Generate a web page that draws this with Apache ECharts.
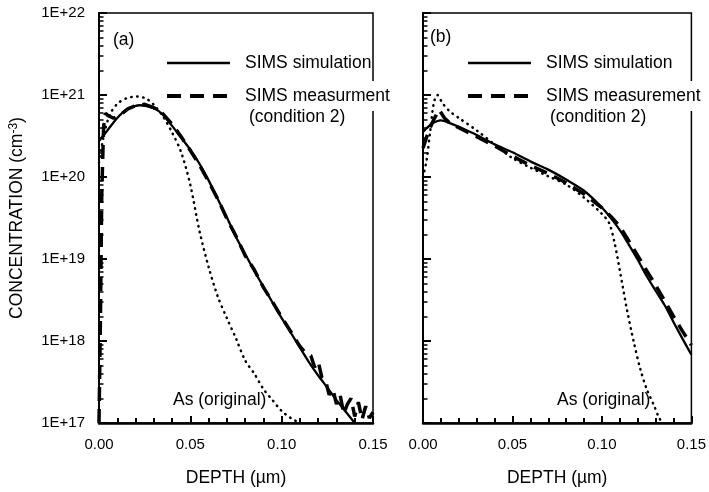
<!DOCTYPE html>
<html>
<head>
<meta charset="utf-8">
<title>SIMS depth profiles</title>
<script src="https://cdn.jsdelivr.net/npm/echarts@6/dist/echarts.min.js"></script>
<style>
  html, body { margin: 0; padding: 0; background: #fff; }
  #chart { width: 709px; height: 492px; }
</style>
</head>
<body>
<div id="chart"></div>
<script>
// depth in um, concentration in cm^-3

// panel (a)
const simDepthA = [0, 0.005, 0.01, 0.015, 0.0225, 0.03, 0.035, 0.04, 0.045, 0.05, 0.055, 0.06, 0.065, 0.07,
  0.075, 0.08, 0.085, 0.09, 0.095, 0.1, 0.105, 0.11, 0.115, 0.12, 0.125, 0.13, 0.135, 0.14]
const simConcA = [2.75e20, 3.8e20, 5.25e20, 6.6e20, 7.5e20, 6.9e20, 5.75e20, 4.2e20, 3.0e20, 2.15e20, 1.45e20, 9.1e19, 5.4e19, 3.2e19,
  1.86e19, 1.15e19, 7.2e18, 4.6e18, 2.95e18, 1.9e18, 1.26e18, 8.3e17, 5.5e17, 3.8e17, 2.7e17, 1.9e17, 1.38e17, 1.0e17]

const measDepthA = [0, 0.0008, 0.0015, 0.0025, 0.0035, 0.005, 0.008, 0.012, 0.016, 0.02, 0.025, 0.03, 0.035, 0.04,
  0.045, 0.05, 0.055, 0.06, 0.065, 0.07, 0.075, 0.08, 0.085, 0.09, 0.095, 0.1, 0.105, 0.11, 0.113, 0.116,
  0.118, 0.12, 0.122, 0.124, 0.126, 0.128, 0.13, 0.132, 0.134, 0.136, 0.138, 0.14, 0.142, 0.144, 0.146, 0.148, 0.15]
const measConcA = [1e17, 2e18, 6e19, 4e20, 6e20, 5.6e20, 5.2e20, 5.8e20, 6.8e20, 7.4e20, 7.7e20, 7.0e20, 5.9e20, 4.4e20,
  3.1e20, 2.1e20, 1.4e20, 8.8e19, 5.4e19, 3.1e19, 1.9e19, 1.1e19, 7.4e18, 4.5e18, 3.0e18, 1.95e18, 1.3e18, 8.6e17, 7.2e17, 6.6e17,
  4.8e17, 5.6e17, 3.6e17, 3.3e17, 2.2e17, 2.6e17, 1.7e17, 2.2e17, 1.3e17, 1.7e17, 2.0e17, 1.2e17, 1.8e17, 1.1e17, 1.6e17, 1.15e17, 1.35e17]

const origDepthA = [0, 0.003, 0.006, 0.01, 0.015, 0.021, 0.026, 0.03, 0.035, 0.04, 0.045, 0.05, 0.055, 0.06,
  0.065, 0.07, 0.075, 0.08, 0.085, 0.09, 0.095, 0.1, 0.105, 0.11]
const origConcA = [1.5e20, 3.5e20, 5.8e20, 7.8e20, 9.1e20, 9.6e20, 9.0e20, 7.6e20, 5.5e20, 3.5e20, 2.0e20, 8.0e19, 2.2e19, 8.0e18,
  3.5e18, 1.9e18, 1.07e18, 5.8e17, 4.0e17, 2.6e17, 1.9e17, 1.4e17, 1.15e17, 1.0e17]

// panel (b)
const simDepthB = [0, 0.005, 0.01, 0.015, 0.02, 0.03, 0.04, 0.05, 0.06, 0.07, 0.08, 0.09, 0.1, 0.105,
  0.11, 0.115, 0.12, 0.125, 0.13, 0.135, 0.14, 0.145, 0.15]
const simConcB = [3.55e20, 4.45e20, 4.9e20, 4.55e20, 4.1e20, 3.25e20, 2.5e20, 2.0e20, 1.55e20, 1.23e20, 9.3e19, 6.8e19, 4.25e19, 3.15e19,
  2.25e19, 1.5e19, 9.8e18, 6.2e18, 4.1e18, 2.75e18, 1.7e18, 1.07e18, 6.8e17]

const measDepthB = [0, 0.003, 0.006, 0.009, 0.012, 0.016, 0.02, 0.03, 0.04, 0.05, 0.06, 0.07, 0.08, 0.09,
  0.1, 0.105, 0.11, 0.115, 0.12, 0.125, 0.13, 0.135, 0.14, 0.145, 0.15]
const measConcB = [2.25e20, 3.55e20, 5.0e20, 6.6e20, 5.25e20, 4.35e20, 4.0e20, 3.1e20, 2.4e20, 1.8e20, 1.38e20, 1.1e20, 8.5e19, 6.2e19,
  4.2e19, 3.3e19, 2.5e19, 1.66e19, 1.1e19, 7.2e18, 4.8e18, 3.1e18, 2.0e18, 1.32e18, 8.9e17]

const origDepthB = [0, 0.002, 0.004, 0.006, 0.008, 0.011, 0.015, 0.02, 0.03, 0.04, 0.05, 0.06, 0.07, 0.08,
  0.09, 0.1, 0.104, 0.107, 0.1105, 0.114, 0.118, 0.1215, 0.125, 0.129, 0.132, 0.134]
const origConcB = [1.0e20, 1.6e20, 3.55e20, 7.9e20, 1.0e21, 7.9e20, 6.3e20, 5.25e20, 3.7e20, 2.5e20, 1.7e20, 1.3e20, 1.02e20, 8.1e19,
  5.6e19, 3.55e19, 2.75e19, 1.6e19, 6.3e18, 2.4e18, 9.3e17, 4.5e17, 2.6e17, 1.65e17, 1.15e17, 1.0e17]

// tick labels
const yTickLabels = ['1E+17', '1E+18', '1E+19', '1E+20', '1E+21', '1E+22']
const xTickLabels = ['0.00', '0.05', '0.10', '0.15']

const FONT = '"Liberation Sans", Arial, Helvetica, sans-serif'

function pairs(xs, ys) {
  return xs.map((x, i) => [x, ys[i]])
}

// minor ticks at 2..9 of every decade, in exponent units
const minorYTicks = []
for (let e = 17; e < 22; e++) {
  for (let m = 2; m <= 9; m++) minorYTicks.push(e + Math.log10(m))
}

function xAxisFor(gridIndex) {
  return {
    type: 'value',
    gridIndex: gridIndex,
    min: 0,
    max: 0.15,
    interval: 0.05,
    name: 'DEPTH (\u00b5m)',
    nameLocation: 'middle',
    nameGap: 46,
    nameTextStyle: { color: '#000', fontSize: 17.5, fontFamily: FONT },
    axisLine: { lineStyle: { color: '#000', width: 2.5 } },
    axisTick: { inside: true, length: 7, lineStyle: { color: '#000', width: 2 } },
    minorTick: { show: true, splitNumber: 5, length: 5, lineStyle: { color: '#000', width: 2 } },
    axisLabel: {
      color: '#000',
      fontSize: 15,
      fontFamily: FONT,
      margin: 14,
      formatter: v => xTickLabels[Math.round(v / 0.05)]
    },
    splitLine: { show: false }
  }
}

function yAxisFor(gridIndex, withLabels) {
  return {
    type: 'log',
    gridIndex: gridIndex,
    position: 'left',
    min: 1e17,
    max: 1e22,
    logBase: 10,
    name: withLabels ? '{a|CONCENTRATION (cm}{s|-3}{a|)}' : '',
    nameLocation: 'middle',
    nameRotate: 90,
    nameGap: 73,
    nameTextStyle: {
      color: '#000',
      rich: {
        a: { fontSize: 17.5, fontFamily: FONT, color: '#000' },
        s: { fontSize: 12, fontFamily: FONT, color: '#000', verticalAlign: 'top' }
      }
    },
    axisLine: { show: true, lineStyle: { color: '#000', width: 2 } },
    axisTick: { inside: true, length: 8, lineStyle: { color: '#000', width: 2 } },
    axisLabel: {
      show: withLabels,
      color: '#000',
      fontSize: 15,
      fontFamily: FONT,
      margin: 14,
      formatter: v => yTickLabels[Math.round(Math.log10(v)) - 17]
    },
    splitLine: { show: false }
  }
}

// linear axis in exponent units, used only to place the minor ticks
function minorYAxisFor(gridIndex) {
  return {
    type: 'value',
    gridIndex: gridIndex,
    position: 'left',
    min: 17,
    max: 22,
    axisLine: { show: false },
    axisLabel: { show: false },
    splitLine: { show: false },
    axisTick: {
      show: true,
      inside: true,
      length: 4.5,
      customValues: minorYTicks,
      lineStyle: { color: '#000', width: 1.5 }
    }
  }
}

const solidStyle = { color: '#000', width: 2.3 }
const dashedStyle = { color: '#000', width: 3.5, type: [14, 8] }
const dottedStyle = { color: '#000', width: 2.5, type: [0.5, 5.5], cap: 'round' }

function lineSeries(name, xi, yi, data, style, smooth) {
  return {
    name: name,
    type: 'line',
    xAxisIndex: xi,
    yAxisIndex: yi,
    data: data,
    showSymbol: false,
    smooth: smooth,
    lineStyle: style,
    emphasis: { disabled: true }
  }
}

function legendBlock(x0, measText) {
  return [
    { type: 'line', shape: { x1: x0, y1: 63, x2: x0 + 63, y2: 63 }, style: { stroke: '#000', lineWidth: 2.3 }, z: 50 },
    { type: 'line', shape: { x1: x0, y1: 96, x2: x0 + 63, y2: 96 }, style: { stroke: '#000', lineWidth: 4, lineDash: [14, 9] }, z: 50 },
    {
      type: 'text', x: x0 + 78, y: 63, z: 50,
      style: { text: 'SIMS simulation', fill: '#000', font: '17.5px ' + FONT, verticalAlign: 'middle' }
    },
    {
      type: 'text', x: x0 + 78, y: 96, z: 50,
      style: {
        text: measText, fill: '#000', font: '17.5px ' + FONT, verticalAlign: 'middle',
        backgroundColor: '#fff', padding: [4, 0, 8, 0]
      }
    },
    {
      type: 'text', x: x0 + 82, y: 117, z: 50,
      style: { text: '(condition 2)', fill: '#000', font: '17.5px ' + FONT, verticalAlign: 'middle' }
    }
  ]
}

const chart = echarts.init(document.getElementById('chart'), null, { renderer: 'canvas' })

chart.setOption({
  animation: false,
  backgroundColor: '#fff',
  grid: [
    { left: 99, top: 13, width: 274, height: 421, show: true, borderColor: '#000', borderWidth: 1.5 },
    { left: 423, top: 13, width: 272, height: 421, show: true, borderColor: '#000', borderWidth: 1.5 }
  ],
  xAxis: [xAxisFor(0), xAxisFor(1)],
  yAxis: [yAxisFor(0, true), minorYAxisFor(0), yAxisFor(1, false), minorYAxisFor(1)],
  series: [
    lineSeries('As (original) a', 0, 0, pairs(origDepthA, origConcA), dottedStyle, 0.3),
    lineSeries('SIMS measurment', 0, 0, pairs(measDepthA, measConcA), dashedStyle, false),
    lineSeries('SIMS simulation a', 0, 0, pairs(simDepthA, simConcA), solidStyle, 0.3),
    lineSeries('As (original) b', 1, 2, pairs(origDepthB, origConcB), dottedStyle, 0.3),
    lineSeries('SIMS measurement', 1, 2, pairs(measDepthB, measConcB), dashedStyle, false),
    lineSeries('SIMS simulation b', 1, 2, pairs(simDepthB, simConcB), solidStyle, 0.3)
  ],
  graphic: [
    { type: 'text', x: 113, y: 40, z: 50, style: { text: '(a)', fill: '#000', font: '17.5px ' + FONT, verticalAlign: 'middle' } },
    { type: 'text', x: 430, y: 37, z: 50, style: { text: '(b)', fill: '#000', font: '17.5px ' + FONT, verticalAlign: 'middle' } },
    { type: 'text', x: 173, y: 400, z: 50, style: { text: 'As (original)', fill: '#000', font: '17.5px ' + FONT, verticalAlign: 'middle' } },
    { type: 'text', x: 557, y: 400, z: 50, style: { text: 'As (original)', fill: '#000', font: '17.5px ' + FONT, verticalAlign: 'middle' } }
  ].concat(legendBlock(167, 'SIMS measurment'), legendBlock(468, 'SIMS measurement'))
})
</script>
</body>
</html>
